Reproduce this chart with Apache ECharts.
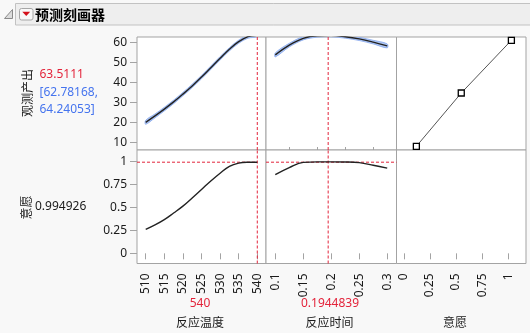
<!DOCTYPE html>
<html><head><meta charset="utf-8">
<script src="https://cdn.jsdelivr.net/npm/echarts@6/dist/echarts.min.js"></script>
<style>html,body{margin:0;padding:0;background:#f8f8f8;}#c{width:530px;height:333px;}</style>
</head><body><div id="c"></div>
<script>
// ---- data ----
const tempX      = [510, 512.5, 515, 517.5, 520, 522.5, 525, 527.5, 530, 532.5, 535, 537.5, 540];
const yieldByTemp= [20.0, 23.2, 26.6, 30.2, 34.1, 38.2, 42.6, 47.3, 52.0, 56.5, 60.3, 62.8, 63.51];
const ciHalfTemp = [1.0, 0.95, 0.9, 0.88, 0.85, 0.85, 0.85, 0.85, 0.85, 0.8, 0.78, 0.75, 0.73];
const desByTemp  = [0.261, 0.31, 0.368, 0.44, 0.515, 0.605, 0.697, 0.79, 0.875, 0.95, 0.985, 0.994, 0.9949];

const timeX      = [0.1, 0.125, 0.15, 0.175, 0.2, 0.225, 0.25, 0.275, 0.3];
const yieldByTime= [53.7, 58.6, 62.0, 63.3, 63.45, 62.8, 61.7, 60.1, 58.2];
const ciHalfTime = [1.0, 0.9, 0.8, 0.75, 0.73, 0.75, 0.8, 0.9, 1.0];
const desByTime  = [0.859, 0.936, 0.993, 0.998, 0.998, 0.997, 0.99, 0.962, 0.93];

const desFnD     = [0.12, 0.55, 1.03];   // desirability (x) of control points
const desFnY     = [8.0, 34.65, 61.0];   // response value of control points

const curTemp = 540, curTime = 0.1944839, curDes = 0.994926;
const predText = '63.5111', ciLowText = '[62.78168,', ciHighText = '64.24053]', desText = '0.994926';

const yieldTicks = [10, 20, 30, 40, 50, 60];
const desTicksY  = [0, 0.25, 0.5, 0.75, 1];
const tempTicks  = [510, 515, 520, 525, 530, 535, 540];
const timeTicks  = [0.1, 0.15, 0.2, 0.25, 0.3];
const timeMinor  = [0.125, 0.175, 0.225, 0.275];
const desTicksX  = [0, 0.25, 0.5, 0.75, 1];

// ---- ranges ----
const yTop = [6.15, 62.65], yBot = [-0.111, 1.128];
const xT = [507.66, 542.34], xM = [0.0834, 0.3166], xD = [-0.0702, 1.17];

const FONT = 'Noto Sans';
const CJK = 'Noto Sans CJK SC';
const RED = '#e3243b', BLUE = '#4574ee';

const cols = [{left:137, width:129}, {left:266, width:130.5}, {left:396.5, width:129.5}];
const rows = [{top:37, height:113}, {top:150, height:113.5}];
const grids = [];
rows.forEach(r => cols.forEach(c => grids.push({left:c.left, width:c.width, top:r.top, height:r.height,
  show:true, backgroundColor:'#fff', borderColor:'#a3a3a3', borderWidth:1, containLabel:false})));

const xr = [xT, xM, xD];
const xAxis = [];
for (let i = 0; i < 6; i++) {
  const c = i % 3, bottom = i >= 3;
  const ticks = [tempTicks, timeTicks, desTicksX][c];
  xAxis.push({type:'value', gridIndex:i, min:xr[c][0], max:xr[c][1], show:bottom,
    axisLine:{show:false}, splitLine:{show:false},
    axisTick:{show:true, length:6, lineStyle:{color:'#a3a3a3'}, customValues:ticks},
    axisLabel:{show:true, rotate:90, margin:10, fontSize:12, fontFamily:FONT, color:'#1a1a1a', customValues:ticks}});
}
xAxis.push({type:'value', gridIndex:4, min:xM[0], max:xM[1], show:true, axisLine:{show:false}, splitLine:{show:false},
  axisTick:{show:true, length:3, lineStyle:{color:'#a3a3a3'}, customValues:timeMinor}, axisLabel:{show:false}});

const yAxis = [];
for (let i = 0; i < 6; i++) {
  const bottom = i >= 3, first = i % 3 === 0;
  const ticks = bottom ? desTicksY : yieldTicks;
  const rg = bottom ? yBot : yTop;
  yAxis.push({type:'value', gridIndex:i, min:rg[0], max:rg[1], show:first,
    axisLine:{show:false}, splitLine:{show:false},
    axisTick:{show:true, length:7, lineStyle:{color:'#a3a3a3'}, customValues:ticks},
    axisLabel:{show:true, margin:10, fontSize:12, fontFamily:FONT, color:'#1a1a1a', customValues:ticks}});
}

function pairs(xs, ys) { return xs.map((x, i) => [x, ys[i]]); }
function curve(ai, xs, ys) {
  return {type:'line', xAxisIndex:ai, yAxisIndex:ai, data:pairs(xs, ys), smooth:0.4, symbol:'none',
    lineStyle:{color:'#222', width:1.4}, z:5, silent:true};
}
// confidence band as a polygon built from the arrays, through the axes' coord()
function band(ai, xs, ys, hw) {
  const data = xs.map((x, i) => [x, ys[i] - hw[i], ys[i] + hw[i]]);
  return {type:'custom', xAxisIndex:ai, yAxisIndex:ai, data:data, clip:true, z:3, silent:true,
    renderItem: function (params, api) {
      if (params.dataIndex !== 0) return null;
      const up = [], lo = [];
      for (let i = 0; i < data.length; i++) {
        up.push(api.coord([data[i][0], data[i][2]]));
        lo.push(api.coord([data[i][0], data[i][1]]));
      }
      const cs = params.coordSys;
      return {type:'group', children:[
        {type:'polygon', shape:{points:up.concat(lo.reverse()), smooth:0.35},
         style:{fill:'#b0c7f3', stroke:'#86a8ee', lineWidth:0.8}}
      ], clipPath:{type:'rect', shape:{x:cs.x, y:cs.y, width:cs.width, height:cs.height}}};
    }};
}
function dash(ai, pts) {
  return {type:'line', xAxisIndex:ai, yAxisIndex:ai, data:pts, symbol:'none',
    lineStyle:{color:RED, width:1, type:[3,2]}, z:4, silent:true};
}

const series = [
  band(0, tempX, yieldByTemp, ciHalfTemp),
  curve(0, tempX, yieldByTemp),
  band(1, timeX, yieldByTime, ciHalfTime),
  curve(1, timeX, yieldByTime),
  {type:'line', xAxisIndex:2, yAxisIndex:2, data:pairs(desFnD, desFnY), symbol:'rect', symbolSize:6,
   lineStyle:{color:'#555', width:1}, itemStyle:{color:'#fff', borderColor:'#000', borderWidth:1.3}, z:5, silent:true},
  curve(3, tempX, desByTemp),
  curve(4, timeX, desByTime),
  dash(0, [[curTemp, yTop[0]], [curTemp, yTop[1]]]),
  dash(3, [[curTemp, yBot[0]], [curTemp, yBot[1]]]),
  dash(3, [[xT[0], curDes], [curTemp, curDes]]),
  dash(1, [[curTime, yTop[0]], [curTime, yTop[1]]]),
  dash(4, [[curTime, yBot[0]], [curTime, yBot[1]]]),
  dash(4, [[xM[0], curDes], [xM[1], curDes]])
];

const txt = (x, y, text, o) => Object.assign({type:'text', x:x, y:y, silent:true,
  style:Object.assign({text:text, fontSize:12, fontFamily:FONT, fill:'#1a1a1a', align:'left', verticalAlign:'middle'}, o||{})});

const graphic = [
  {type:'rect', shape:{x:15.5, y:3.5, width:520, height:21.5}, style:{fill:'#eeeeee', stroke:'#c2c2c2', lineWidth:1}, silent:true},
  {type:'polygon', shape:{points:[[12.5,9.5],[12.5,18.5],[4.5,18.5]]}, style:{fill:'#dcdcdc', stroke:'#8a8a8a', lineWidth:1}, silent:true},
  {type:'rect', shape:{x:19.5, y:8.5, width:13.5, height:11.5, r:2}, style:{fill:'#f8f8f8', stroke:'#a6a6a6', lineWidth:1}, silent:true},
  {type:'polygon', shape:{points:[[22.3,11.8],[30.2,11.8],[26.25,16]]}, style:{fill:'#d4111b'}, silent:true},
  txt(35, 14.5, '预测刻画器', {fontSize:14, fontWeight:'bold', fontFamily:CJK, fill:'#000'}),
  Object.assign(txt(27.5, 93, '观测产出', {fontFamily:CJK, align:'center'}), {rotation:Math.PI/2}),
  txt(39.5, 75, predText, {fill:RED}),
  txt(39.5, 92.5, ciLowText, {fill:BLUE}),
  txt(39.5, 109.5, ciHighText, {fill:BLUE}),
  Object.assign(txt(26.5, 207.5, '意愿', {fontFamily:CJK, align:'center'}), {rotation:Math.PI/2}),
  txt(35, 206.5, desText),
  txt(200, 303.5, String(curTemp), {fill:RED, align:'center'}),
  txt(330, 303.5, String(curTime), {fill:RED, align:'center'}),
  txt(200, 322, '反应温度', {fontFamily:CJK, align:'center'}),
  txt(329.5, 322, '反应时间', {fontFamily:CJK, align:'center'}),
  txt(455, 322, '意愿', {fontFamily:CJK, align:'center'})
];

const chart = echarts.init(document.getElementById('c'), null, {renderer:'canvas'});
chart.setOption({animation:false, backgroundColor:'#f8f8f8', grid:grids, xAxis:xAxis, yAxis:yAxis, series:series, graphic:graphic});
</script></body></html>
